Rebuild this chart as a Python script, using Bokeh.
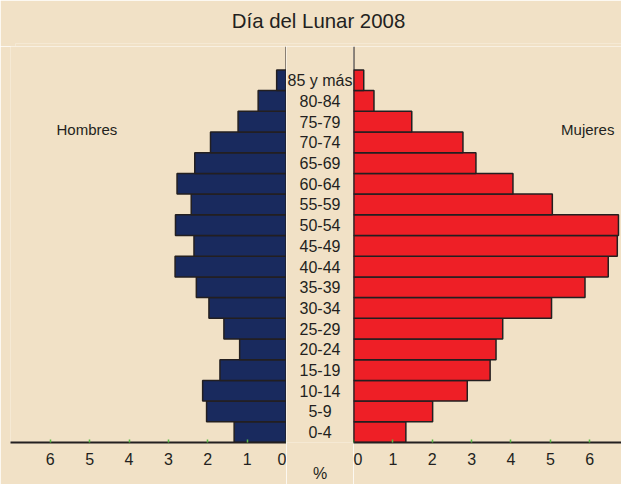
from bokeh.plotting import figure
from bokeh.layouts import row, column
from bokeh.models import Range1d, FixedTicker, Span, Label, ColumnDataSource
from bokeh.embed import file_html
from bokeh.resources import INLINE
from bokeh.core.properties import value

# ---- data (bottom to top) ----
grupos = ["0-4", "5-9", "10-14", "15-19", "20-24", "25-29", "30-34", "35-39",
          "40-44", "45-49", "50-54", "55-59", "60-64", "65-69", "70-74",
          "75-79", "80-84", "85 y más"]
hombres = [1.33, 2.03, 2.13, 1.69, 1.19, 1.59, 1.97, 2.29, 2.83, 2.35,
           2.82, 2.42, 2.78, 2.33, 1.93, 1.23, 0.72, 0.25]
mujeres = [1.33, 2.01, 2.89, 3.47, 3.62, 3.79, 5.03, 5.88, 6.47, 6.70,
           6.73, 5.05, 4.05, 3.11, 2.78, 1.48, 0.52, 0.26]
ticks = [0, 1, 2, 3, 4, 5, 6]
titulo = "Día del Lunar 2008"

BG = "#f1e1c6"
INK = "#231f20"
NAVY = "#192a5e"
RED = "#ee1f26"
GREEN = "#5dbb46"
FONT = "Liberation Sans"

src = ColumnDataSource(dict(grupo=grupos, pos=list(range(len(grupos))),
                            hombres=hombres, mujeres=mujeres))

yr = Range1d(-0.5, 18.63)


def body(width, xr, **kw):
    p = figure(width=width, height=438, x_range=xr, y_range=yr,
               output_backend="svg", toolbar_location=None,
               y_axis_location=None, min_border=0, min_border_bottom=40,
               background_fill_color=BG, border_fill_color=BG,
               outline_line_color=None, **kw)
    p.grid.visible = False
    return p


def style_xaxis(ax):
    ax.ticker = FixedTicker(ticks=ticks)
    ax.axis_line_color = INK
    ax.axis_line_width = 2
    ax.major_tick_line_color = GREEN
    ax.major_tick_line_width = 1.5
    ax.major_tick_in = 3
    ax.major_tick_out = 0
    ax.minor_tick_line_color = None
    ax.major_label_text_font = FONT
    ax.major_label_text_font_size = "16px"
    ax.major_label_text_color = INK
    ax.major_label_standoff = 10


# ---- left: Hombres ----
left = body(286, Range1d(7.01, 0), min_border_left=10)
left.hbar(y="pos", left=0, right="hombres", height=1.0, source=src,
          fill_color=NAVY, line_color=INK, line_width=1.5)
style_xaxis(left.xaxis[0])
left.add_layout(Span(location=0, dimension="height", line_color=INK, line_width=2))
left.add_layout(Label(x=5.07, y=14.6, text="Hombres", text_align="center",
                      text_baseline="middle", text_font=FONT,
                      text_font_size="15px", text_color=INK))

# ---- middle: age groups ----
mid = body(67, Range1d(-1, 1))
mid.text(x=0, y="pos", text="grupo", source=src, text_align="center",
         text_baseline="middle", text_font=value(FONT),
         text_font_size=value("16px"), text_color=INK)
max_ = mid.xaxis[0]
max_.ticker = FixedTicker(ticks=[])
max_.axis_line_color = None
max_.major_tick_line_color = None
max_.minor_tick_line_color = None
max_.major_label_standoff = 0
max_.axis_label = "%"
max_.axis_label_text_font = FONT
max_.axis_label_text_font_size = "16px"
max_.axis_label_text_font_style = "normal"
max_.axis_label_text_color = INK
max_.axis_label_standoff = 22

# ---- right: Mujeres ----
right = body(268, Range1d(0, 6.807))
right.hbar(y="pos", left=0, right="mujeres", height=1.0, source=src,
           fill_color=RED, line_color=INK, line_width=1.5)
style_xaxis(right.xaxis[0])
right.add_layout(Span(location=0, dimension="height", line_color=INK, line_width=2))
right.add_layout(Label(x=5.95, y=14.6, text="Mujeres", text_align="center",
                       text_baseline="middle", text_font=FONT,
                       text_font_size="15px", text_color=INK))

# ---- title strip ----
top = figure(width=621, height=46, title=titulo, output_backend="svg",
             toolbar_location=None, x_axis_location=None, y_axis_location=None,
             min_border=0, min_border_left=15,
             background_fill_color=BG, border_fill_color=BG,
             outline_line_color=None)
top.grid.visible = False
top.title.align = "center"
top.title.text_font = FONT
top.title.text_font_size = "20.4px"
top.title.text_font_style = "normal"
top.title.text_color = INK
top.title.vertical_align = "top"
top.title.standoff = 19

layout = column(top, row(left, mid, right, spacing=0), spacing=0)

open("out.html", "w").write(file_html(layout, INLINE))
